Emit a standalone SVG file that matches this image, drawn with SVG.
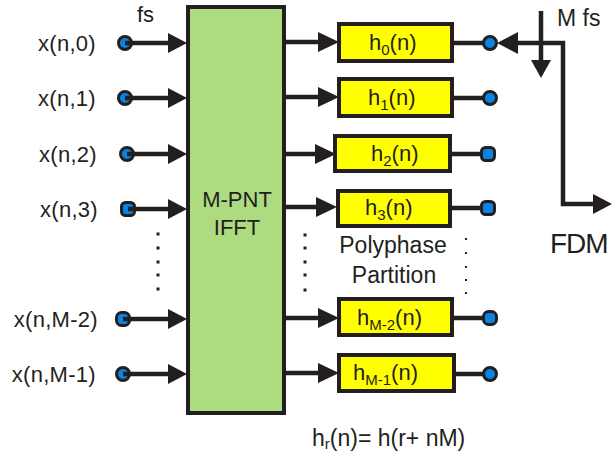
<svg xmlns="http://www.w3.org/2000/svg" width="613" height="454" viewBox="0 0 613 454">
<style>
text{font-family:"Liberation Sans",Arial,sans-serif;fill:#231f20}
.lbl{font-size:22px}
.in{font-size:22px}
.big{font-size:23px}
.box{fill:#ffff00;stroke:#231f20;stroke-width:4}
.ln{stroke:#231f20;stroke-width:4.5;fill:none}
.ah{fill:#231f20}
.nd{fill:#0a84e0;stroke:#231f20;stroke-width:3}
.dot{fill:#231f20}
</style>
<rect width="613" height="454" fill="#fff"/>
<g id="ifft">
<rect x="188" y="7" width="96" height="406" fill="#addc80" stroke="#231f20" stroke-width="4"/>
<text class="in" x="237" y="207" text-anchor="middle">M-PNT</text>
<text class="in" x="237" y="235" text-anchor="middle">IFFT</text>
</g>
<g id="inputs">
<g id="in0"><text class="in" x="96" y="51" text-anchor="end" letter-spacing="0.3">x(n,0)</text><circle class="nd" cx="125" cy="43" r="6.5"/></g>
<g id="in1"><text class="in" x="96" y="106" text-anchor="end" letter-spacing="0.3">x(n,1)</text><circle class="nd" cx="125" cy="98" r="6.5"/></g>
<g id="in2"><text class="in" x="97" y="162" text-anchor="end" letter-spacing="0.3">x(n,2)</text><circle class="nd" cx="127" cy="154" r="6.5"/></g>
<g id="in3"><text class="in" x="98" y="217" text-anchor="end" letter-spacing="0.3">x(n,3)</text><rect class="nd" x="121.5" y="202.5" width="13" height="13" rx="4"/></g>
<g id="inM2"><text class="in" x="98" y="327" text-anchor="end" letter-spacing="0.3">x(n,M-2)</text><rect class="nd" x="116.5" y="312.5" width="13" height="13" rx="5"/></g>
<g id="inM1"><text class="in" x="96" y="382" text-anchor="end" letter-spacing="0.3">x(n,M-1)</text><circle class="nd" cx="123" cy="374" r="6.5"/></g>
</g>
<g id="filters">
<g id="h0"><rect class="box" x="339" y="24" width="113" height="37"/><text class="lbl" x="369" y="50">h<tspan font-size="15" dy="5">0</tspan><tspan dy="-5">(n)</tspan></text><circle class="nd" cx="490" cy="43" r="6.5"/></g>
<g id="h1"><rect class="box" x="339" y="79" width="113" height="37"/><text class="lbl" x="368" y="105">h<tspan font-size="15" dy="5">1</tspan><tspan dy="-5">(n)</tspan></text><circle class="nd" cx="490" cy="98" r="6.5"/></g>
<g id="h2"><rect class="box" x="335" y="136" width="115" height="35"/><text class="lbl" x="371" y="161">h<tspan font-size="15" dy="5">2</tspan><tspan dy="-5">(n)</tspan></text><rect class="nd" x="481.5" y="147.5" width="13" height="13" rx="4"/></g>
<g id="h3"><rect class="box" x="338" y="191" width="112" height="35"/><text class="lbl" x="365" y="215">h<tspan font-size="15" dy="5">3</tspan><tspan dy="-5">(n)</tspan></text><rect class="nd" x="481.5" y="201.5" width="13" height="13" rx="4"/></g>
<g id="hM2"><rect class="box" x="339" y="299" width="113" height="36"/><text class="lbl" x="357" y="325">h<tspan font-size="15" dy="5">M-2</tspan><tspan dy="-5">(n)</tspan></text><rect class="nd" x="483.5" y="311.5" width="13" height="13" rx="5"/></g>
<g id="hM1"><rect class="box" x="339" y="355" width="115" height="36"/><text class="lbl" x="353" y="380">h<tspan font-size="15" dy="5">M-1</tspan><tspan dy="-5">(n)</tspan></text><circle class="nd" cx="490" cy="374" r="6.5"/></g>
</g>
<g id="connectors">
<path class="ln" d="M125 43H170M125 98H170M127 154H170M128 209H170M123 319H170M123 374H170"/>
<path class="ah" d="M168 33L187 43L168 53ZM168 88L187 98L168 108ZM168 144L187 154L168 164ZM168 199L187 209L168 219ZM168 309L187 319L168 329ZM168 364L187 374L168 384Z"/>
<path class="ln" d="M286 42H320M286 97H320M286 154H317M286 207H318M286 318H320M286 373H320"/>
<path class="ah" d="M318 32L339 42L318 52ZM318 87L339 97L318 107ZM315 144L336 154L315 164ZM316 197L337 207L316 217ZM318 308L339 318L318 328ZM318 363L339 373L318 383Z"/>
<path class="ln" d="M452 43H485M452 98H485M450 154H482M450 208H482M452 318H484M454 374H485"/>
<path class="ln" d="M516 43H563V204H595"/>
<path class="ah" d="M518 32L497 43L518 54ZM593 194L612 204L593 214Z"/>
<path class="ln" d="M541 11V62"/>
<path class="ah" d="M531 60L541 78L551 60Z"/>
</g>
<g id="dots" class="dot">
<rect x="156.5" y="232.5" width="3" height="3"/><rect x="156.5" y="246.5" width="3" height="3"/><rect x="156.5" y="260.5" width="3" height="3"/><rect x="156.5" y="273.5" width="3" height="3"/><rect x="156.5" y="287.5" width="3" height="3"/>
<rect x="303.5" y="233.5" width="3" height="3"/><rect x="303.5" y="246.5" width="3" height="3"/><rect x="303.5" y="260.5" width="3" height="3"/><rect x="303.5" y="273.5" width="3" height="3"/><rect x="303.5" y="288.5" width="3" height="3"/>
<rect x="465" y="238" width="2" height="2"/><rect x="465" y="252" width="2" height="2"/><rect x="465" y="266" width="2" height="2"/><rect x="465" y="279" width="2" height="2"/><rect x="465" y="292" width="2" height="2"/>
</g>
<g id="labels">
<text class="lbl" x="137" y="22">fs</text>
<text class="big" x="557" y="26">M fs</text>
<text x="550" y="253" font-size="28" letter-spacing="-1">FDM</text>
<text class="big" x="393" y="253" text-anchor="middle">Polyphase</text>
<text class="big" x="394" y="283" text-anchor="middle">Partition</text>
<text class="big" x="312" y="446">h<tspan font-size="15" dy="3">r</tspan><tspan dy="-3">(n)= h(r+ nM)</tspan></text>
</g>
</svg>
